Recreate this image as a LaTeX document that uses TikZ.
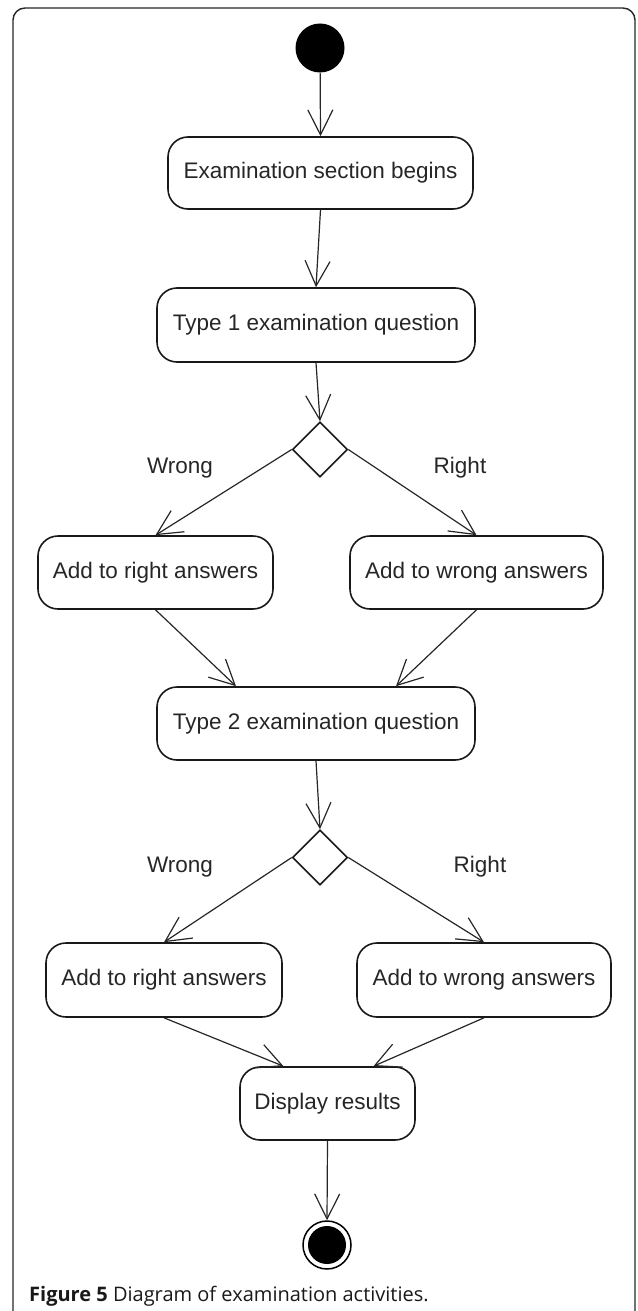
\documentclass[tikz,border=0pt]{standalone}
\usepackage{fontspec}
\setmainfont{Liberation Sans}
\newfontfamily\capfont{Open Sans}
\usetikzlibrary{arrows.meta,shapes.geometric}

\begin{document}
\begin{tikzpicture}[x=1pt,y=-1pt,
  act/.style={draw=black!90, line width=1.6pt, rounded corners=20pt,
    inner sep=0pt, font=\fontsize{22.5}{26}\selectfont, text=black!85},
  flow/.style={draw=black!85, line width=1.2pt,
    -{Straight Barb[length=25pt,width=25pt,line width=1.2pt]}},
  decision/.style={diamond, draw=black!90, line width=1.6pt, aspect=1,
    minimum width=55pt, minimum height=55pt, inner sep=0pt},
  guard/.style={font=\fontsize{22.5}{26}\selectfont, text=black!85}
]
\useasboundingbox (0,0) rectangle (637,1311);

% outer frame, open at the bottom
\draw[line width=1.4pt, rounded corners=12pt, black!85]
  (13,1311) -- (13,8) -- (635,8) -- (635,1311);

% initial node
\node[circle, fill=black, minimum size=49pt, inner sep=0pt] (start) at (320,48) {};

% activities
\node[act, minimum width=305pt, minimum height=72pt] (b1) at (320.5,173) {Examination section begins};
\node[act, minimum width=318pt, minimum height=74pt] (b2) at (316,325) {Type 1 examination question};
\node[decision] (d1) at (320,449.5) {};
\node[act, minimum width=235pt, minimum height=73pt] (b3) at (155.5,572.5) {Add to right answers};
\node[act, minimum width=253pt, minimum height=73pt] (b4) at (476.5,572.5) {Add to wrong answers};
\node[act, minimum width=318pt, minimum height=73pt] (b5) at (316,723.5) {Type 2 examination question};
\node[decision] (d2) at (320,857.5) {};
\node[act, minimum width=236pt, minimum height=74pt] (b6) at (164,980) {Add to right answers};
\node[act, minimum width=254pt, minimum height=74pt] (b7) at (484,980) {Add to wrong answers};
\node[act, minimum width=175pt, minimum height=73pt] (b8) at (327.5,1103.5) {Display results};

% final node
\node[circle, draw=black, line width=1.5pt, minimum size=48pt, inner sep=0pt] (end) at (327,1245) {};
\fill[black] (end.center) circle (19pt);

% guard labels
\node[guard] (g1) at (180,468) {Wrong};
\node[guard] (g2) at (460,468) {Right};
\node[guard] (g3) at (180,867) {Wrong};
\node[guard] (g4) at (480,867) {Right};

% control flow
\draw[flow] (start) -- (b1.north);
\draw[flow] (b1.south) -- (b2.north);
\draw[flow] (b2.south) -- (d1.north);
\draw[flow] (d1.west) -- (b3.north);
\draw[flow] (d1.east) -- (b4.north);
\draw[flow] (b3.south) -- ([xshift=-80pt]b5.north);
\draw[flow] (b4.south) -- ([xshift=80pt]b5.north);
\draw[flow] (b5.south) -- (d2.north);
\draw[flow] (d2.west) -- (b6.north);
\draw[flow] (d2.east) -- (b7.north);
\draw[flow] (b6.south) -- ([xshift=-44pt]b8.north);
\draw[flow] (b7.south) -- ([xshift=46pt]b8.north);
\draw[flow] (b8.south) -- (end.north);

% caption
\node[anchor=base west, inner sep=0pt, font=\capfont\fontsize{20}{24}\selectfont, text=black!90]
  (cap) at (29,1301) {\textbf{Figure 5} Diagram of examination activities.};
\end{tikzpicture}
\end{document}
